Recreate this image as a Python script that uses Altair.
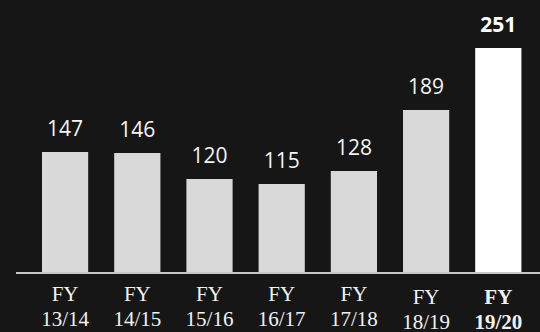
import altair as alt
import pandas as pd

categories = ["FY 13/14", "FY 14/15", "FY 15/16", "FY 16/17", "FY 17/18", "FY 18/19", "FY 19/20"]
values = [147, 146, 120, 115, 128, 189, 251]
highlight = "FY 19/20"

df = pd.DataFrame({"cat": categories, "val": values})

x_enc = alt.X("cat:N", sort=categories,
              scale=alt.Scale(range=[29, 534.4], paddingInner=0.36, paddingOuter=0.18),
              axis=alt.Axis(title=None, domain=False, ticks=False, labelAngle=0,
                            labelExpr="split(datum.label, ' ')",
                            labelFont="Liberation Serif", labelFontSize=21,
                            labelLineHeight=25, labelColor="#f2f2f2",
                            labelPadding={"condition": {"test": "datum.value == 'FY 18/19' || datum.value == 'FY 19/20'", "value": 13}, "value": 10},
                            labelFontWeight={"condition": {"test": f"datum.value == '{highlight}'", "value": "bold"}, "value": "normal"}))
y_scale = alt.Scale(domain=[26, 299], zero=False, nice=False)

bars = alt.Chart(df).mark_bar().encode(
    x=x_enc,
    y=alt.Y("val:Q", scale=y_scale, axis=None),
    y2=alt.datum(26),
    color=alt.condition(f"datum.cat == '{highlight}'", alt.value("#ffffff"), alt.value("#d9d9d9")),
)

base_text = alt.Chart(df).encode(
    x=alt.X("cat:N", sort=categories),
    y=alt.Y("val:Q", scale=y_scale),
    text=alt.Text("val:Q"),
)
labels = base_text.transform_filter(f"datum.cat != '{highlight}'").mark_text(
    font="Open Sans", fontSize=21, baseline="alphabetic", dy=-16, color="#f4f4f4")
labels_hi = base_text.transform_filter(f"datum.cat == '{highlight}'").mark_text(
    font="Open Sans", fontSize=21, fontWeight="bold", baseline="alphabetic", dy=-16, color="#ffffff")

rule = alt.Chart(df).mark_rule(color="#c8c8c8", strokeWidth=1.5).encode(
    x=alt.value(16), x2=alt.value(540), y=alt.value(272.7)
)

chart = alt.layer(bars, labels, labels_hi, rule).properties(
    width=540, height=273, background="#161616",
    padding={"left": 0, "right": 0, "top": 0, "bottom": 59},
    autosize=alt.AutoSizeParams(type="none"),
).configure_view(stroke=None)

chart.save("out.html", embed_options={"renderer": "svg", "actions": False})
